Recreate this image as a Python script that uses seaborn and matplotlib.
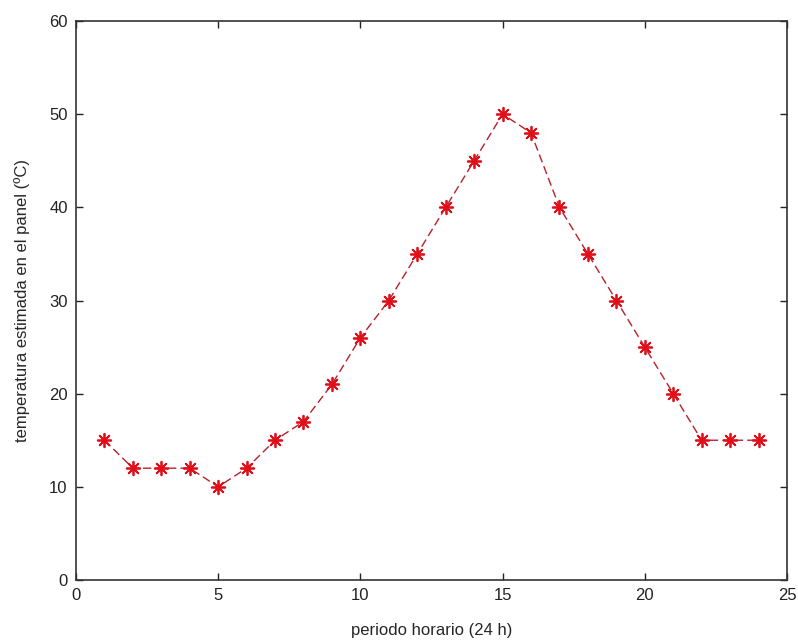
import numpy as np
import pandas as pd
import matplotlib
matplotlib.use("Agg")
import matplotlib.pyplot as plt
import seaborn as sns

# hourly periods and estimated panel temperature
horas = list(range(1, 25))
temperatura = [15, 12, 12, 12, 10, 12, 15, 17, 21, 26, 30, 35,
               40, 45, 50, 48, 40, 35, 30, 25, 20, 15, 15, 15]

df = pd.DataFrame({"hora": horas, "temp": temperatura})

sns.set_style("ticks")
plt.rcParams["font.family"] = ["Liberation Sans", "DejaVu Sans"]
plt.rcParams["xtick.direction"] = "in"
plt.rcParams["ytick.direction"] = "in"

fig = plt.figure(figsize=(7.98, 6.41), dpi=100)
ax = fig.add_axes([0.0952, 0.0952, 0.891, 0.872])

# dashed line first, then asterisk markers (MATLAB-style '*')
sns.lineplot(data=df, x="hora", y="temp", ax=ax, color="#b8202a",
             linestyle=(0, (6, 3)), linewidth=1.0)
sns.scatterplot(data=df, x="hora", y="temp", ax=ax, marker=(8, 2, 0),
                s=95, color="#e0101a", edgecolor="#e0101a", linewidth=1.3,
                zorder=3)

ax.set_xlim(0, 25)
ax.set_ylim(0, 60)
ax.set_xticks(range(0, 26, 5))
ax.set_yticks(range(0, 61, 10))
ax.tick_params(labelsize=12, length=5, width=1, top=True, right=True,
               colors="#222222", pad=6)
for s in ax.spines.values():
    s.set_linewidth(1.2)
    s.set_color("#333333")
ax.set_xlabel("periodo horario (24 h)", fontsize=12, labelpad=14)
ax.set_ylabel("temperatura estimada en el panel (ºC)", fontsize=12, labelpad=14)

fig.savefig("out.png", dpi=100, facecolor="white")
